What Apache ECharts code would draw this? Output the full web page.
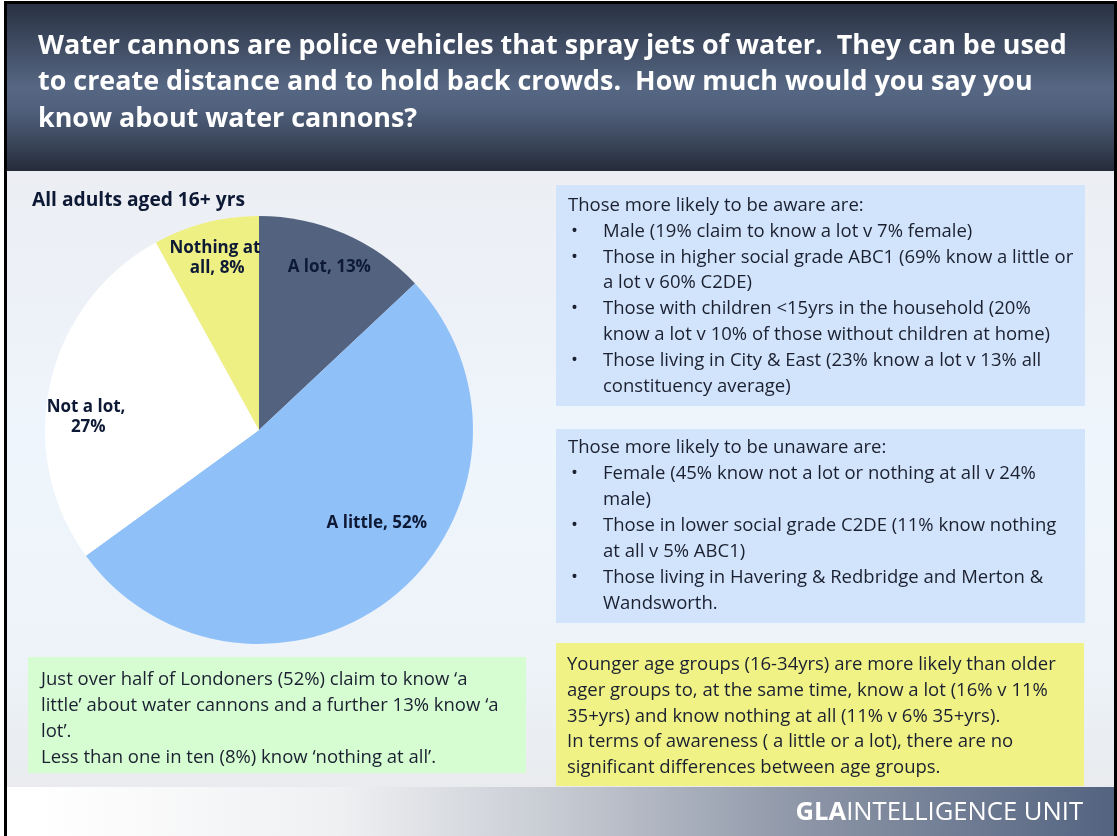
<!DOCTYPE html>
<html>
<head>
<meta charset="utf-8">
<script src="https://cdn.jsdelivr.net/npm/echarts@6/dist/echarts.min.js"></script>
<style>
  html, body { margin: 0; padding: 0; background: #ffffff; }
  #chart { width: 1117px; height: 836px; }
</style>
</head>
<body>
<div id="chart"></div>
<script>
// Survey answers: how much Londoners say they know about water cannons
const categories = ['A lot', 'A little', 'Not a lot', 'Nothing at all'];
const shares = [13, 52, 27, 8];
const sliceColors = ['#53627f', '#90c0f8', '#ffffff', '#eff084'];

const titleLines = [
  'Water cannons are police vehicles that spray jets of water.  They can be used',
  'to create distance and to hold back crowds.  How much would you say you',
  'know about water cannons?'
];
const baseLabel = 'All adults aged 16+ yrs';

const awareHeading = 'Those more likely to be aware are:';
const awareBullets = [
  ['Male (19% claim to know a lot v 7% female)'],
  ['Those in higher social grade ABC1 (69% know a little or', 'a lot v 60% C2DE)'],
  ['Those with children <15yrs in the household (20%', 'know a lot v 10% of those without children at home)'],
  ['Those living in City & East (23% know a lot v 13% all', 'constituency average)']
];

const unawareHeading = 'Those more likely to be unaware are:';
const unawareBullets = [
  ['Female (45% know not a lot or nothing at all v 24%', 'male)'],
  ['Those in lower social grade C2DE (11% know nothing', 'at all v 5% ABC1)'],
  ['Those living in Havering & Redbridge and Merton &', 'Wandsworth.']
];

const ageNote = [
  'Younger age groups (16-34yrs) are more likely than older',
  'ager groups to, at the same time, know a lot (16% v 11%',
  '35+yrs) and know nothing at all (11% v 6% 35+yrs).',
  'In terms of awareness ( a little or a lot), there are no',
  'significant differences between age groups.'
];

const summaryNote = [
  'Just over half of Londoners (52%) claim to know \u2018a',
  'little\u2019 about water cannons and a further 13% know \u2018a',
  'lot\u2019.',
  'Less than one in ten (8%) know \u2018nothing at all\u2019.'
];

const FONT = '"Open Sans", "Noto Sans", sans-serif';
const INK = '#1b2030';
const NAVY = '#0e1a35';
const BODY_SIZE = 18.5;
const LINE_H = 25.9;

function textLine(text, x, y, opts) {
  opts = opts || {};
  return {
    type: 'text',
    z: 5,
    silent: true,
    style: {
      text: text,
      x: x,
      y: y,
      fill: opts.fill || INK,
      font: (opts.weight || 'normal') + ' ' + (opts.size || BODY_SIZE) + 'px ' + FONT,
      verticalAlign: 'middle',
      align: opts.align || 'left'
    }
  };
}

// heading + bulleted list inside a panel
function bulletBlock(heading, bullets, x, firstY) {
  const out = [textLine(heading, x, firstY)];
  let row = 1;
  bullets.forEach(function (lines) {
    out.push(textLine('\u2022', x + 3, firstY + row * LINE_H));
    lines.forEach(function (ln) {
      out.push(textLine(ln, x + 35, firstY + row * LINE_H));
      row++;
    });
  });
  return out;
}

function plainBlock(lines, x, firstY) {
  return lines.map(function (ln, i) { return textLine(ln, x, firstY + i * LINE_H); });
}

function panel(x, y, w, h, fill) {
  return { type: 'rect', z: 2, silent: true, shape: { x: x, y: y, width: w, height: h }, style: { fill: fill } };
}

const graphics = [
  // page body background
  {
    type: 'rect', z: 0, silent: true,
    shape: { x: 6, y: 170, width: 1109, height: 617 },
    style: {
      fill: new echarts.graphic.LinearGradient(0, 0, 0, 1, [
        { offset: 0, color: '#eceef3' },
        { offset: 0.45, color: '#eef5fc' },
        { offset: 0.8, color: '#edf3f8' },
        { offset: 1, color: '#e9ebee' }
      ])
    }
  },
  // header band
  {
    type: 'rect', z: 1, silent: true,
    shape: { x: 6, y: 3, width: 1109, height: 168 },
    style: {
      fill: new echarts.graphic.LinearGradient(0, 0, 0, 1, [
        { offset: 0, color: '#293142' },
        { offset: 0.5, color: '#566783' },
        { offset: 0.62, color: '#52627e' },
        { offset: 0.85, color: '#384357' },
        { offset: 1, color: '#252b39' }
      ])
    }
  },
  // footer band
  {
    type: 'rect', z: 1, silent: true,
    shape: { x: 6, y: 787, width: 1109, height: 49 },
    style: {
      fill: new echarts.graphic.LinearGradient(0, 0, 1, 0, [
        { offset: 0, color: '#ffffff' },
        { offset: 0.03, color: '#ffffff' },
        { offset: 0.3, color: '#eff0f2' },
        { offset: 0.5, color: '#c6cad2' },
        { offset: 0.72, color: '#8d96a7' },
        { offset: 1, color: '#536380' }
      ])
    }
  },
  // frame lines
  { type: 'rect', z: 6, silent: true, shape: { x: 4, y: 1, width: 1112, height: 3 }, style: { fill: '#000000' } },
  { type: 'rect', z: 6, silent: true, shape: { x: 4, y: 1, width: 3, height: 835 }, style: { fill: '#000000' } },
  { type: 'rect', z: 6, silent: true, shape: { x: 1114, y: 1, width: 3, height: 835 }, style: { fill: '#000000' } },

  panel(556, 185, 529, 221, '#d2e4fb'),
  panel(556, 429, 529, 194, '#d2e4fb'),
  panel(556, 643, 528, 143, '#f0f285'),
  panel(28, 657, 498, 116, '#d6fcd2')
];

titleLines.forEach(function (ln, i) {
  graphics.push({
    type: 'text', z: 5, silent: true,
    style: {
      text: ln, x: 38, y: 46 + i * 36.5,
      fill: '#ffffff',
      font: 'bold 26.9px ' + FONT,
      verticalAlign: 'middle'
    }
  });
});

graphics.push(textLine(baseLabel, 32, 201, { weight: 'bold', size: 19.2, fill: NAVY }));
Array.prototype.push.apply(graphics, bulletBlock(awareHeading, awareBullets, 568, 205.5));
Array.prototype.push.apply(graphics, bulletBlock(unawareHeading, unawareBullets, 568, 448));
Array.prototype.push.apply(graphics, plainBlock(ageNote, 567, 664.5));
Array.prototype.push.apply(graphics, plainBlock(summaryNote, 41, 680));

// footer brand mark
graphics.push({
  type: 'text', z: 5, silent: true,
  style: {
    text: '{b|GLA}{r|INTELLIGENCE UNIT}',
    x: 1083, y: 813,
    align: 'right', verticalAlign: 'middle',
    rich: {
      b: { fontFamily: FONT, fontWeight: 'bold', fontSize: 25.6, fill: '#ffffff', color: '#ffffff' },
      r: { fontFamily: FONT, fontWeight: 'normal', fontSize: 25.6, fill: '#ffffff', color: '#ffffff' }
    }
  }
});

const wrapNames = { 'Not a lot': true, 'Nothing at all': true };

const chart = echarts.init(document.getElementById('chart'), null, { renderer: 'canvas' });

chart.setOption({
  animation: false,
  backgroundColor: '#ffffff',
  graphic: { elements: graphics },
  series: [
    {
      // the slices
      type: 'pie',
      z: 3,
      center: [259, 430],
      radius: [0, 214],
      startAngle: 90,
      clockwise: true,
      silent: true,
      label: { show: false },
      labelLine: { show: false },
      itemStyle: { borderWidth: 0 },
      data: categories.map(function (c, i) {
        return { name: c, value: shares[i], itemStyle: { color: sliceColors[i] } };
      })
    },
    {
      // transparent ring that carries the slice labels at ~0.8 of the radius
      type: 'pie',
      z: 4,
      center: [259, 430],
      radius: [134, 214],
      startAngle: 90,
      clockwise: true,
      silent: true,
      itemStyle: { color: 'rgba(0,0,0,0)', borderWidth: 0 },
      labelLine: { show: false },
      label: {
        show: true,
        position: 'inside',
        formatter: function (p) { return p.name + ', ' + p.value + '%'; },
        fontFamily: FONT,
        fontWeight: 'bold',
        fontSize: 17,
        lineHeight: 20,
        color: NAVY,
        align: 'center'
      },
      labelLayout: function (p) {
        if (p.dataIndex === 1) return { dx: 5, dy: -43 };
        if (p.dataIndex === 2) return { dx: 2, dy: 26 };
        return {};
      },
      data: categories.map(function (c, i) {
        const d = { name: c, value: shares[i] };
        if (wrapNames[c]) d.label = { width: 94, overflow: 'break' };
        return d;
      })
    }
  ]
});
</script>
</body>
</html>
